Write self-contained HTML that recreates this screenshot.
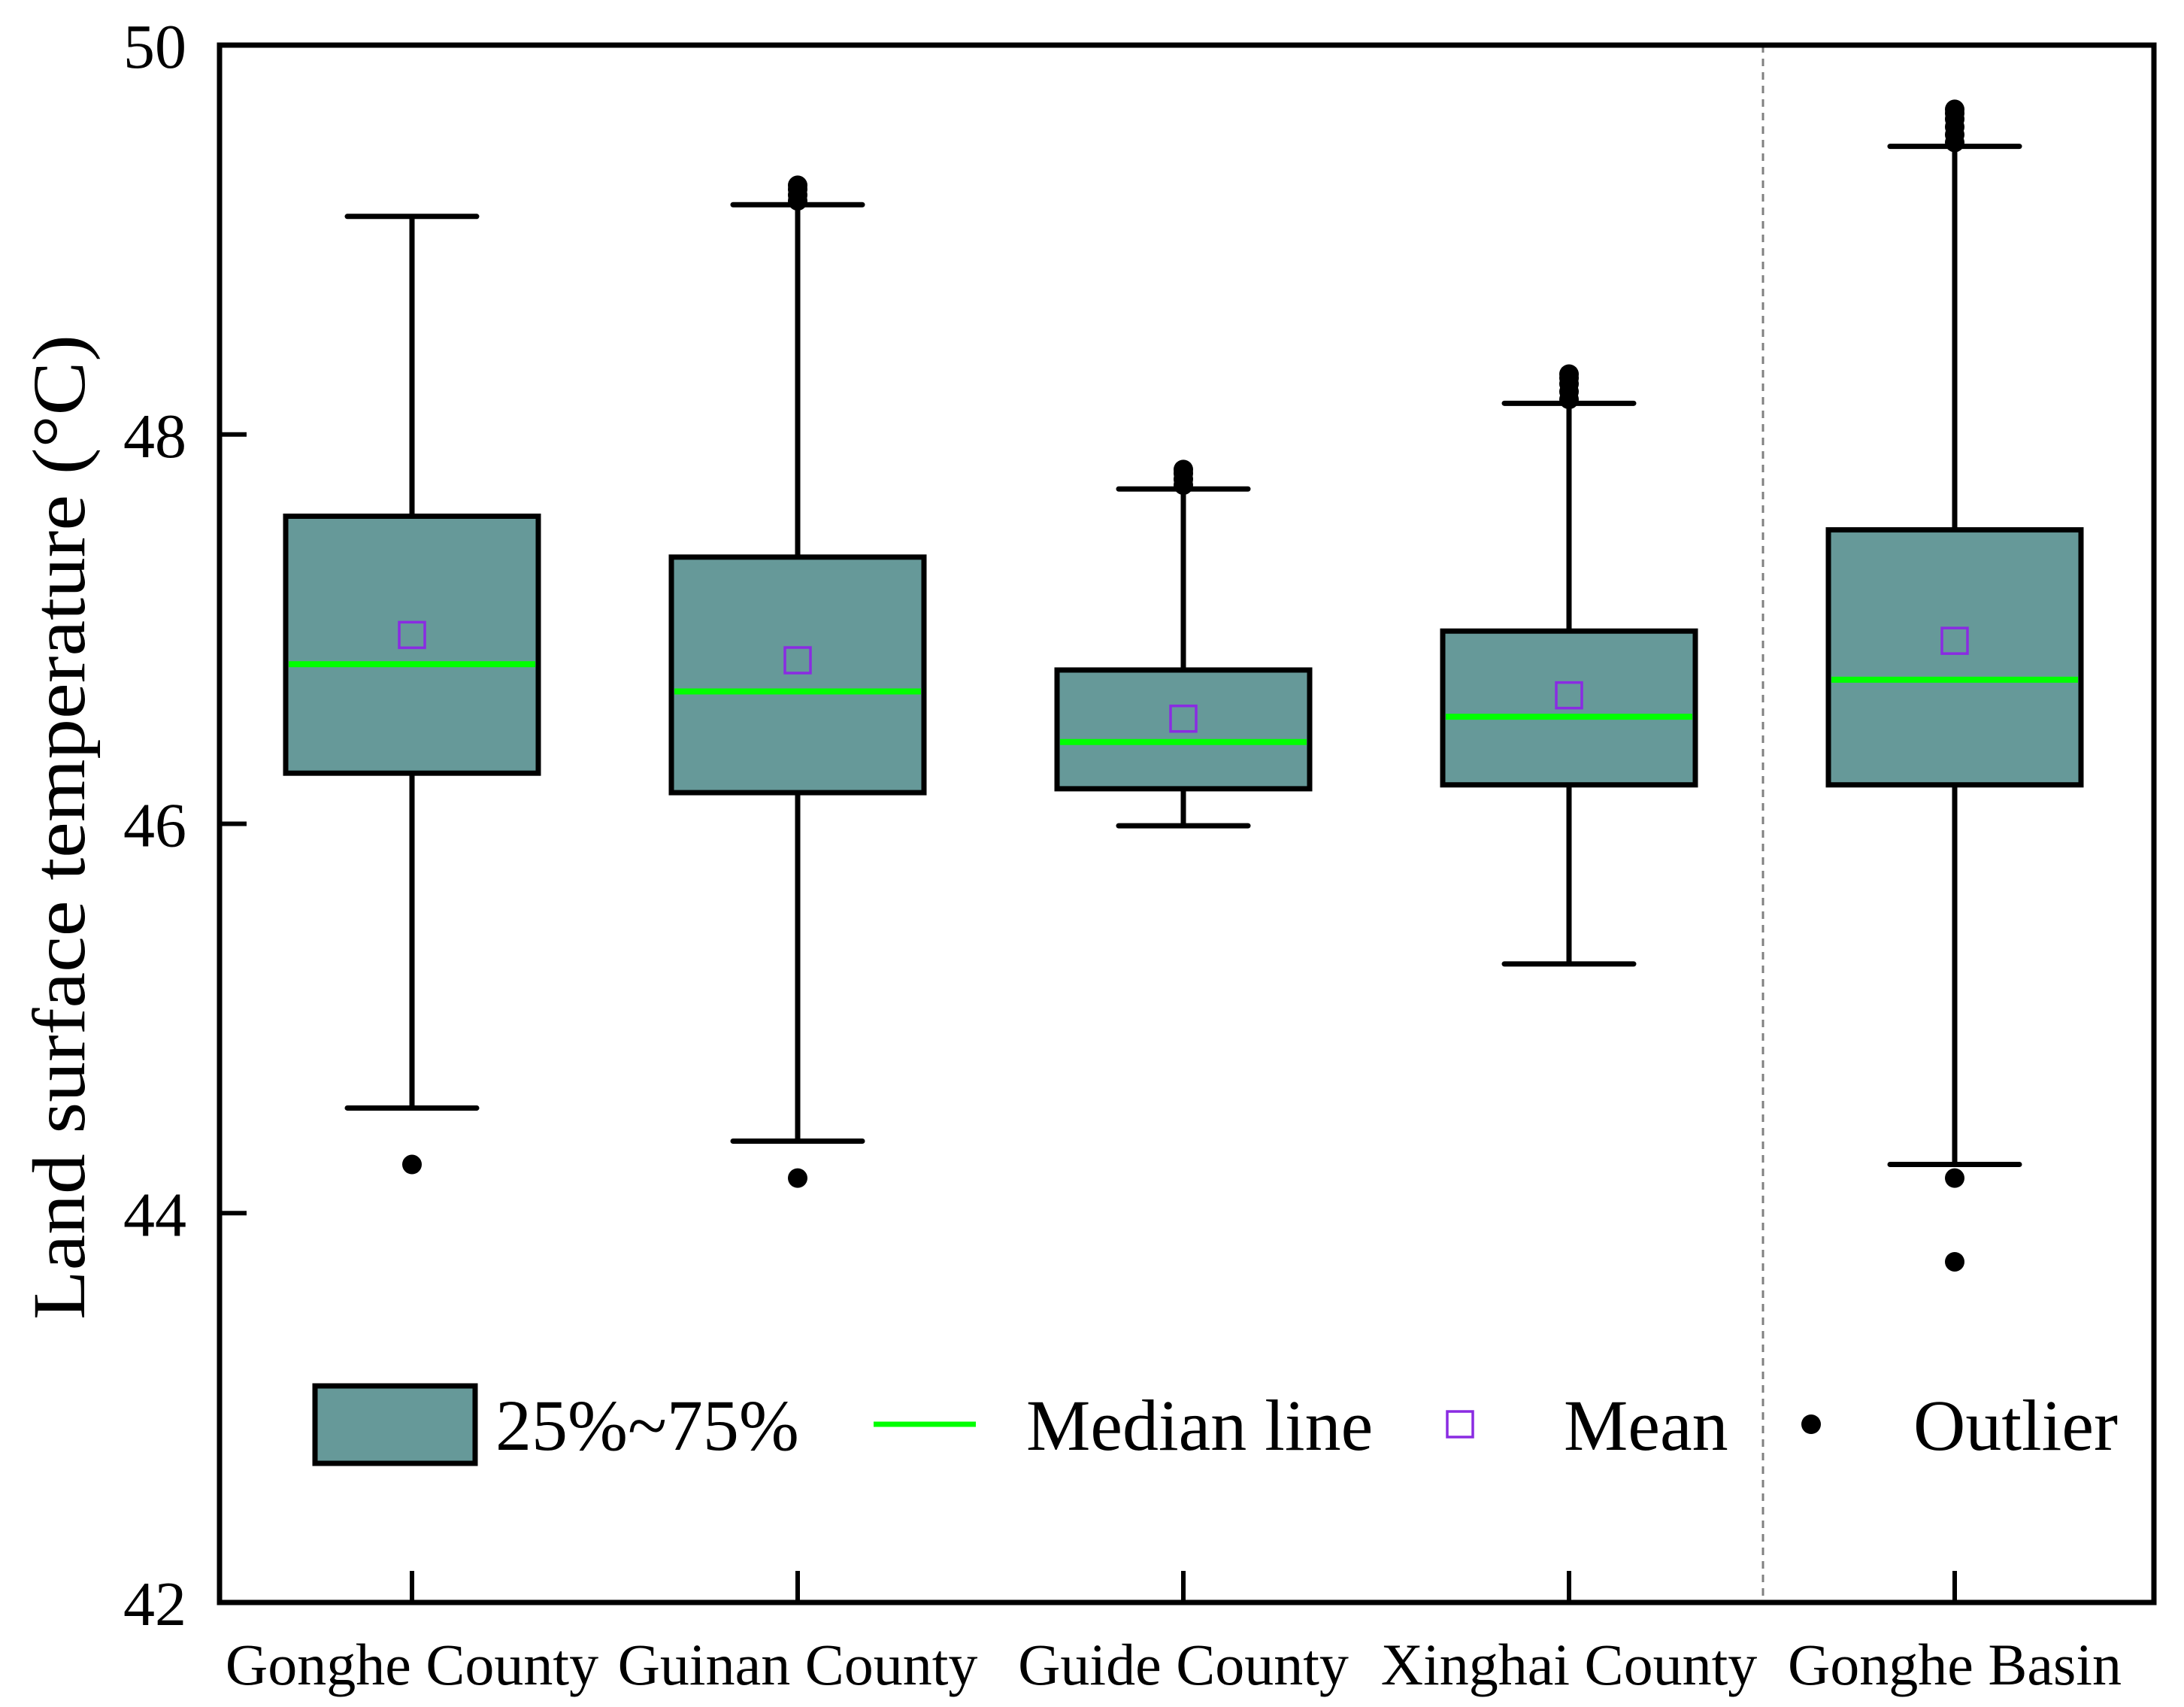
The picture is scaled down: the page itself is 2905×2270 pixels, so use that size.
<!DOCTYPE html>
<html><head><meta charset="utf-8"><style>
html,body{margin:0;padding:0;background:#fff;}
svg{display:block;font-family:"Liberation Serif","Times New Roman",serif;}
</style></head><body>
<svg id="chart" width="2905" height="2270" viewBox="0 0 2905 2270" xmlns="http://www.w3.org/2000/svg"></svg>
<script>
const categories = ["Gonghe County","Guinan County","Guide County","Xinghai County","Gonghe Basin"];
const whiskerHigh = [49.12, 49.18, 47.72, 48.16, 49.48];
const q3Values = [47.58, 47.37, 46.79, 46.99, 47.51];
const medianValues = [46.82, 46.68, 46.42, 46.55, 46.74];
const meanValues = [46.97, 46.84, 46.54, 46.66, 46.94];
const q1Values = [46.26, 46.16, 46.18, 46.20, 46.20];
const whiskerLow = [44.54, 44.37, 45.99, 45.28, 44.25];
const outlierValues = [
  [44.25],
  [44.18, 49.20, 49.23, 49.26, 49.28],
  [47.74, 47.77, 47.80, 47.82],
  [48.18, 48.22, 48.26, 48.29, 48.31],
  [44.18, 43.75, 49.50, 49.54, 49.58, 49.62, 49.65, 49.67]
];
const yTicks = [42, 44, 46, 48, 50];

const NS = "http://www.w3.org/2000/svg";
const svg = document.getElementById("chart");
const L = 292, R = 2865, T = 60, B = 2131;
const yMin = 42, yMax = 50;
const y = v => B - (v - yMin) / (yMax - yMin) * (B - T);
const x0 = 548, step = 513;
const x = i => x0 + i * step;
const boxHalf = 168, capHalf = 86;

function mk(tag, attrs, parent) {
  const el = document.createElementNS(NS, tag);
  for (const k in attrs) el.setAttribute(k, attrs[k]);
  (parent || svg).appendChild(el);
  return el;
}

let dv = mk("line", {x1: 2345, x2: 2345, y1: T, y2: B, stroke: "#808080", "stroke-width": 3, "stroke-dasharray": "10 8"});



categories.forEach((c, i) => {
  const g = mk("g", {});
  
  
  const cx = x(i);
  mk("line", {x1: cx, x2: cx, y1: y(whiskerHigh[i]), y2: y(whiskerLow[i]), stroke: "#000", "stroke-width": 7}, g);
  mk("line", {x1: cx - capHalf, x2: cx + capHalf, y1: y(whiskerHigh[i]), y2: y(whiskerHigh[i]), stroke: "#000", "stroke-width": 7, "stroke-linecap": "round"}, g);
  mk("line", {x1: cx - capHalf, x2: cx + capHalf, y1: y(whiskerLow[i]), y2: y(whiskerLow[i]), stroke: "#000", "stroke-width": 7, "stroke-linecap": "round"}, g);
  mk("rect", {x: cx - boxHalf, y: y(q3Values[i]), width: boxHalf * 2, height: y(q1Values[i]) - y(q3Values[i]), fill: "#669999", stroke: "#000", "stroke-width": 7}, g);
  mk("line", {x1: cx - boxHalf + 4, x2: cx + boxHalf - 4, y1: y(medianValues[i]), y2: y(medianValues[i]), stroke: "#00ff00", "stroke-width": 8}, g);
  mk("rect", {x: cx - 17, y: y(meanValues[i]) - 17, width: 34, height: 34, fill: "none", stroke: "#8a2be2", "stroke-width": 3.5}, g);
  outlierValues[i].forEach(v => {
    const d = mk("circle", {cx: cx, cy: y(v), r: 13, fill: "#000"}, g);
    
    
  });
  const xt = mk("line", {x1: cx, x2: cx, y1: B, y2: B - 42, stroke: "#000", "stroke-width": 6});
  
  
  const lb = mk("text", {x: cx, y: 2240, "text-anchor": "middle", "font-size": 78});
  lb.textContent = c;
  
  
});

yTicks.forEach(v => {
  const t = mk("line", {x1: L, x2: L + 36, y1: y(v), y2: y(v), stroke: "#000", "stroke-width": 6});
  
  
  const lb = mk("text", {x: 248, y: y(v) + 30, "text-anchor": "end", "font-size": 84});
  lb.textContent = v;
  
  
});

const fr = mk("rect", {x: L, y: T, width: R - L, height: B - T, fill: "none", stroke: "#000", "stroke-width": 7});


</script>
<svg style="position:absolute;left:0;top:0" width="2905" height="2270" viewBox="0 0 2905 2270" xmlns="http://www.w3.org/2000/svg" font-family="Liberation Serif, serif">
  <text transform="translate(112,1100) rotate(-90)" text-anchor="middle" font-size="100" textLength="1310" lengthAdjust="spacingAndGlyphs">Land surface temperature (°C)</text>
  <g>
    <rect x="419" y="1843" width="213" height="103" fill="#669999" stroke="#000" stroke-width="7"/>
    <text x="659" y="1928" font-size="96">25%~75%</text>
    <line x1="1162" x2="1298" y1="1894" y2="1894" stroke="#00ff00" stroke-width="7"/>
    <text x="1365" y="1928" font-size="96">Median line</text>
    <rect x="1925" y="1877" width="34" height="34" fill="none" stroke="#8a2be2" stroke-width="3.5"/>
    <text x="2080" y="1928" font-size="96">Mean</text>
    <circle cx="2409" cy="1894" r="13" fill="#000"/>
    <text x="2545" y="1928" font-size="96">Outlier</text>
  </g>
</svg>
</body></html>
